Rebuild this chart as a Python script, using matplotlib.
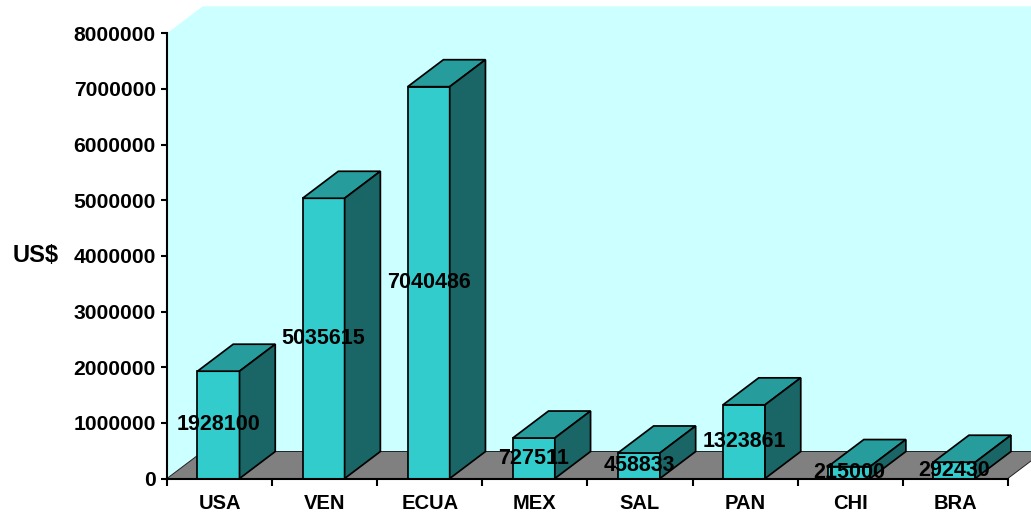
import matplotlib.pyplot as plt
from matplotlib.patches import Polygon
import numpy as np

# montos por pais (US$)
paises = ['USA', 'VEN', 'ECUA', 'MEX', 'SAL', 'PAN', 'CHI', 'BRA']
montos = [1928100, 5035615, 7040486, 727511, 458833, 1323861, 215000, 292430]
marcas_y = [0, 1000000, 2000000, 3000000, 4000000, 5000000, 6000000, 7000000, 8000000]

plt.rcParams['font.family'] = ['Liberation Sans', 'DejaVu Sans']
plt.rcParams['font.weight'] = 'bold'

# colores estilo excel 3D
c_frente = '#33CCCC'
c_techo = '#269C9C'
c_lado = '#1A6666'
c_pared = '#CCFFFF'
c_piso = '#808080'

n = len(paises)
ymax = marcas_y[-1]
dx = 0.34          # profundidad en unidades de categoria
dy = 0.485e6       # profundidad en unidades del eje y
x0_barra = 0.29
ancho = 0.40

fig = plt.figure(figsize=(10.31, 5.17), dpi=100)
ax = fig.add_axes([167 / 1031, 38.5 / 517, 864 / 1031, 478.5 / 517])
ax.set_xlim(0, 864 / 105.1)
ax.set_ylim(0, 478.5 / 55.65 * 1e6)


def poly(pts, color, z, ec='black', lw=1.25):
    ax.add_patch(Polygon(pts, closed=True, facecolor=color, edgecolor=ec,
                         linewidth=lw, zorder=z, joinstyle='miter'))


# paredes (lateral + fondo en una sola pieza)
poly([(0, 0), (dx, dy), (n + dx, dy), (n + dx, ymax + dy),
      (dx, ymax + dy), (0, ymax)], c_pared, 0, ec='none')
# piso
poly([(0, 0), (n, 0), (n + dx, dy), (dx, dy)], c_piso, 1, ec='#222222', lw=0.7)

# barras
for i, v in enumerate(montos):
    xa = i + x0_barra
    xb = xa + ancho
    poly([(xa, 0), (xb, 0), (xb, v), (xa, v)], c_frente, 3)
    poly([(xa, v), (xb, v), (xb + dx, v + dy), (xa + dx, v + dy)], c_techo, 3)
    poly([(xb, 0), (xb + dx, dy), (xb + dx, v + dy), (xb, v)], c_lado, 3)

# etiquetas de valor
for i, v in enumerate(montos):
    ax.text(i + x0_barra + ancho / 2, v / 2, str(v), ha='center', va='center',
            fontsize=15.5, fontweight='bold', color='black', zorder=10)

# ejes
for s in ['top', 'right']:
    ax.spines[s].set_visible(False)
ax.spines['left'].set_bounds(0, ymax)
ax.spines['bottom'].set_bounds(0, n)
ax.spines['left'].set_linewidth(1.5)
ax.spines['bottom'].set_linewidth(1.5)
ax.spines['left'].set_zorder(5)
ax.spines['bottom'].set_zorder(5)

ax.set_yticks(marcas_y)
ax.set_yticklabels(['%d' % m for m in marcas_y])
ax.tick_params(axis='y', length=4.5, width=1.5, pad=3.5, labelsize=15.2)

ax.set_xticks(np.arange(n + 1))
ax.set_xticklabels([])
ax.set_xticks(np.arange(n) + 0.5, minor=True)
ax.set_xticklabels(paises, minor=True)
ax.tick_params(axis='x', which='major', length=5, width=1.5)
ax.tick_params(axis='x', which='minor', length=0, pad=11, labelsize=14.5)

ax.set_ylabel('US$', rotation=0, fontsize=17, fontweight='bold', ha='center', va='center')
ax.yaxis.set_label_coords(-131 / 864, 0.467)
ax.patch.set_visible(False)

fig.savefig('out.png', dpi=100)
